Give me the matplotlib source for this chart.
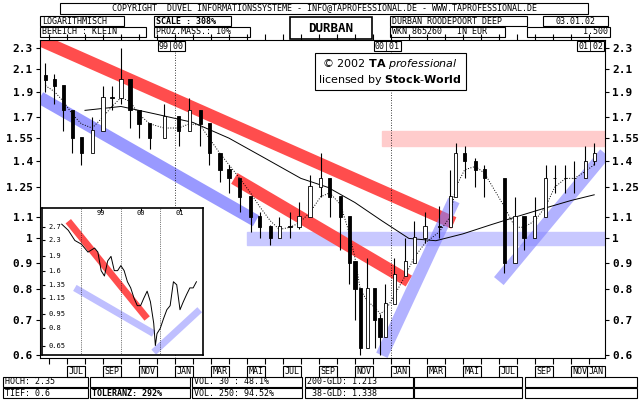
import matplotlib
matplotlib.use("Agg")
import matplotlib.pyplot as plt
import matplotlib.patches as mp
import numpy as np

# time in months relative to Jan 2000
t = [-7.2,-6.7,-6.2,-5.7,-5.2,-4.6,-4.0,-3.5,-3.0,-2.5,-2.0,-1.4,-0.6,0.2,0.8,1.4,1.9,2.5,3.0,3.6,4.2,4.7,5.3,5.8,6.4,6.9,7.5,8.1,8.6,9.2,9.7,10.0,10.3,10.7,11.1,11.4,11.7,12.2,12.8,13.3,13.9,14.7,15.3,15.6,16.1,16.7,17.2,18.3,18.9,19.4,20.0,20.6,21.1,21.7,22.2,22.8,23.3]
close = [2.0,1.95,1.75,1.55,1.45,1.6,1.85,1.85,2.0,1.75,1.65,1.55,1.7,1.6,1.75,1.65,1.45,1.35,1.3,1.2,1.1,1.05,1.0,1.05,1.05,1.1,1.25,1.3,1.2,1.1,0.9,0.8,0.62,0.8,0.7,0.65,0.75,0.85,0.9,1.0,1.05,1.05,1.2,1.45,1.4,1.35,1.3,0.9,1.1,1.0,1.1,1.3,1.3,1.3,1.3,1.4,1.45]
high = [2.15,2.05,1.9,1.7,1.55,1.7,1.95,1.95,2.3,1.85,1.75,1.65,1.8,1.7,1.85,1.75,1.55,1.42,1.38,1.28,1.17,1.12,1.06,1.1,1.12,1.17,1.32,1.45,1.3,1.2,1.0,0.9,0.8,0.92,0.8,0.72,0.82,0.92,1.0,1.08,1.12,1.15,1.35,1.52,1.5,1.42,1.38,1.0,1.2,1.1,1.2,1.38,1.38,1.38,1.4,1.5,1.52]
low = [1.9,1.8,1.6,1.45,1.38,1.5,1.72,1.75,1.8,1.62,1.55,1.48,1.58,1.5,1.6,1.5,1.38,1.28,1.22,1.12,1.03,1.0,0.97,1.0,1.0,1.04,1.15,1.2,1.1,0.95,0.82,0.7,0.6,0.7,0.62,0.6,0.68,0.78,0.85,0.93,0.98,1.0,1.1,1.3,1.3,1.25,1.2,0.86,0.95,0.95,1.0,1.2,1.22,1.22,1.22,1.3,1.38]
ma38 = [1.95,1.9,1.82,1.72,1.65,1.62,1.7,1.78,1.85,1.82,1.72,1.65,1.62,1.62,1.65,1.64,1.55,1.45,1.38,1.3,1.22,1.15,1.08,1.04,1.05,1.07,1.12,1.2,1.22,1.16,1.02,0.92,0.8,0.76,0.74,0.72,0.73,0.78,0.85,0.92,0.98,1.03,1.1,1.25,1.35,1.37,1.33,1.15,1.05,1.05,1.08,1.15,1.25,1.3,1.3,1.34,1.38]
ma_t = [-5.0,-3,-1,1,3,5,7,8.5,10,11.5,13,14.5,16,17.5,19,20.5,22,23.3]
ma200 = [1.75,1.78,1.72,1.66,1.55,1.42,1.3,1.25,1.17,1.08,1.0,0.99,1.02,1.06,1.1,1.14,1.18,1.21]
yticks = [2.3,2.1,1.9,1.7,1.55,1.4,1.25,1.1,1,0.9,0.8,0.7,0.6]
months = ["JUL","SEP","NOV","JAN","MAR","MAI","JUL","SEP","NOV","JAN","MAR","MAI","JUL","SEP","NOV","JAN"]
month_pos = [-6,-4,-2,0,2,4,6,8,10,12,14,16,18,20,22,24]
# inset (long-term overview)
inset_t = [-18,-16,-14,-12,-10,-8,-7,-6,-5,-4,-3,-2,-1,0,1,2,3,4,5,6,7,8,9,10,10.5,11,12,13,14,15,16,17,18,19,20,21,22,23]
inset_c = [2.8,2.6,2.3,2.2,2.0,2.1,2.0,1.6,1.5,1.8,1.9,1.6,1.6,1.7,1.6,1.4,1.3,1.15,1.05,1.05,1.15,1.25,1.1,0.85,0.65,0.75,0.8,0.9,1.0,1.05,1.4,1.35,1.0,1.1,1.2,1.3,1.3,1.4]
inset_yticks = [2.7,2.3,1.9,1.6,1.35,1.15,0.95,0.8,0.65]

FONT = "DejaVu Sans Mono"
fig = plt.figure(figsize=(6.4,4.0), dpi=100)
ax = fig.add_axes([40/640, 1-358/400, 565/640, 318/400])
ax.set_yscale("log")
x0, x1 = -7.5, 23.9
ax.set_xlim(x0, x1); ax.set_ylim(0.593, 2.38)

red = "#ff4d4d"; blue = "#8080ff"
ax.axhspan(1.5, 1.6, xmin=(11.5-x0)/(x1-x0), color="#ffcccc", zorder=0)
ax.axhspan(0.97, 1.03, xmin=(4-x0)/(x1-x0), color="#c8c8ff", zorder=0)
ax.plot([-7.5,15.5],[2.38,1.07], color=red, lw=9, solid_capstyle="butt", zorder=1)
ax.plot([3.3,13.0],[1.3,0.83], color=red, lw=9, solid_capstyle="butt", zorder=1)
ax.plot([-7.5,4.5],[1.85,1.08], color=blue, lw=9, alpha=0.8, solid_capstyle="butt", zorder=1)
ax.plot([11.5,15.5],[0.6,1.18], color=blue, lw=9, alpha=0.6, solid_capstyle="butt", zorder=1)
ax.plot([18.0,23.9],[0.83,1.45], color=blue, lw=9, alpha=0.6, solid_capstyle="butt", zorder=1)

ax.plot(ma_t, ma200, color="black", lw=0.7, zorder=2)
ax.plot(t, ma38, color="black", lw=0.7, ls=":", zorder=2)
prev = close[0]
for i in range(len(t)):
    o, c = (prev, close[i]) if i else (close[0]*1.02, close[0])
    ax.vlines(t[i], low[i], high[i], color="black", lw=0.8, zorder=3)
    ax.add_patch(mp.Rectangle((t[i]-0.09, min(o,c)), 0.18, abs(c-o)+0.005,
                 facecolor="white" if c > o else "black", edgecolor="black", lw=0.6, zorder=4))
    prev = close[i]

for x in [0, 12]:
    ax.axvline(x, color="black", lw=0.6, ls=(0,(1,2)))
ax.set_yticks(yticks); ax.set_yticklabels([f"{v:g}" for v in yticks])
ax.minorticks_off()
ax.tick_params(axis="y", which="both", labelsize=8, right=True, labelright=True, direction="out", length=3, pad=2)
for lab in ax.get_yticklabels():
    lab.set_fontfamily(FONT); lab.set_fontweight("bold")
ax.set_xticks(np.arange(-7, 24, 1))
ax.set_xticklabels([])
ax.tick_params(axis="x", top=True, direction="out", length=4)
for lbl, p in zip(months, month_pos):
    ax.text(min(p+0.5, 23.4), -0.028, lbl, transform=ax.get_xaxis_transform(), ha="center", va="top",
            fontsize=6, family=FONT, bbox=dict(boxstyle="square,pad=0.15", fc="white", ec="black", lw=0.8))
for lbl, p in [("99|00",0),("00|01",12),("01|02",23.3)]:
    ax.text(p-0.2, 0.995, lbl, transform=ax.get_xaxis_transform(), ha="center", va="top",
            fontsize=6, family=FONT, bbox=dict(boxstyle="square,pad=0.1", fc="white", ec="black", lw=0.8))
ax.text(-6.2, 1.04, "10%", fontsize=6, family=FONT, bbox=dict(boxstyle="square,pad=0.1", fc="white", ec="black", lw=0.8))
ax.text(0.62, 0.9, "© 2002 $\\mathbf{TA}$ $\\it{professional}$\nlicensed by $\\bf{Stock}$-$\\bf{World}$",
        transform=ax.transAxes, ha="center", va="center", fontsize=8,
        bbox=dict(boxstyle="square,pad=0.3", fc="white", ec="black", lw=0.8))

ia = fig.add_axes([42/640, 1-355/400, 161/640, 147/400])
ia.set_facecolor("white")
ia.set_yscale("log"); ia.set_ylim(0.58, 3.4); ia.set_xlim(-24, 25)
ia.plot([-16,8],[2.9,0.9], color=red, lw=5, solid_capstyle="butt")
ia.plot([-14,10],[1.3,0.75], color=blue, lw=5, alpha=0.5, solid_capstyle="butt")
ia.plot([10,24],[0.6,1.0], color=blue, lw=5, alpha=0.5, solid_capstyle="butt")
ia.plot(inset_t, inset_c, color="black", lw=0.7)
ia.set_yticks(inset_yticks); ia.set_yticklabels([])
ia.minorticks_off()
ia.tick_params(axis="y", direction="in", length=2)
for v in inset_yticks:
    ia.text(0.04, v, f"{v:g}", transform=ia.get_yaxis_transform(), ha="left", va="center", fontsize=5, family=FONT)
ia.set_xticks([-6,6,18]); ia.set_xticklabels([])
ia.tick_params(axis="x", top=True, bottom=False, direction="in", length=2)
for lbl, p in zip(["99","00","01"], [-6,6,18]):
    ia.text(p, 0.985, lbl, transform=ia.get_xaxis_transform(), ha="center", va="top", fontsize=5, family=FONT)
for x in [-12,0,12]:
    ia.axvline(x, color="black", lw=0.5, ls=":")
for s in ia.spines.values(): s.set_linewidth(1.2)

def box(x, y, w, h, text="", ha="left", bold=False, fs=6, lw=0.8):
    fig.patches.append(mp.Rectangle((x/640, 1-(y+h)/400), w/640, h/400, transform=fig.transFigure,
                       fill=False, ec="black", lw=lw))
    if text:
        tx = x+2 if ha=="left" else (x+w-2 if ha=="right" else x+w/2)
        fig.text(tx/640, 1-(y+h/2)/400, text, ha=ha, va="center", fontsize=fs, family=FONT,
                 fontweight="bold" if bold else "normal")

box(60,3,528,11,"COPYRIGHT  DÜVEL INFORMATIONSSYSTEME - INFO@TAPROFESSIONAL.DE - WWW.TAPROFESSIONAL.DE", ha="center")
box(40,16,84,10,"LOGARITHMISCH"); box(40,27,106,10,"BEREICH : KLEIN")
box(154,16,77,10,"SCALE : 308%", bold=True); box(154,27,96,10,"PROZ.MASS.: 10%")
box(290,17,82,22,"DURBAN", ha="center", bold=True, fs=9, lw=1.2)
box(390,16,137,10,"DURBAN ROODEPOORT DEEP"); box(390,27,115,10,"WKN 865260   IN EUR")
box(543,16,65,10,"03.01.02", ha="center"); box(527,27,83,10,"1.500", ha="right")

rows = [(3,85,"HOCH: 2.35","TIEF: 0.6",False),(90,100,"","TOLERANZ: 292%",True),(192,110,"VOL. 30 : 48.1%","VOL. 250: 94.52%",False),
        (305,108,"200-GLD: 1.213"," 38-GLD: 1.338",False),(414,108,"","",False),(525,112,"","",False)]
for x, w, a, b, bd in rows:
    box(x,377,w,10,a); box(x,388,w,10,b,bold=bd)

fig.savefig("out.png", dpi=100)
